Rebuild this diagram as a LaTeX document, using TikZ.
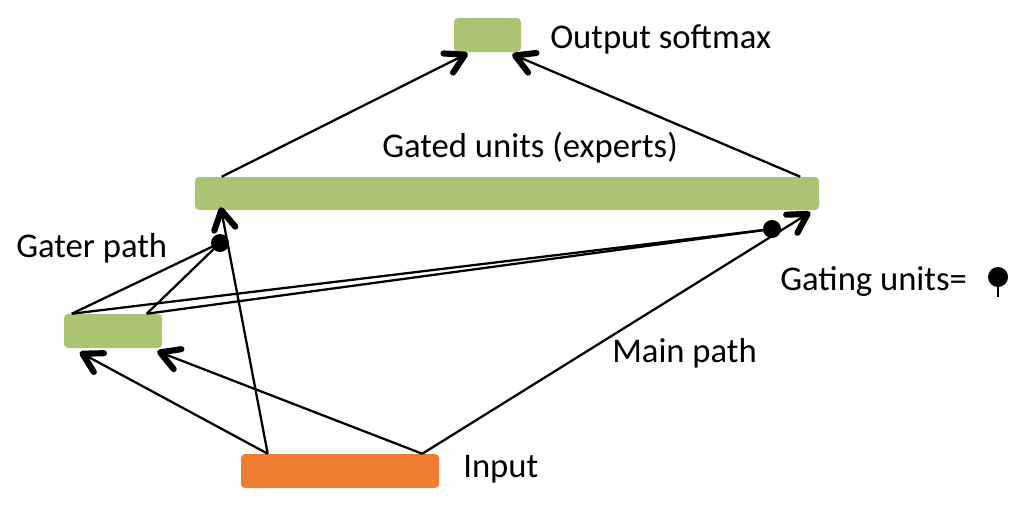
\documentclass[tikz,border=0pt]{standalone}
\usepackage{fontspec}
\setmainfont{Carlito}
\usetikzlibrary{arrows.meta,calc,fit}
\definecolor{boxgreen}{RGB}{170,196,115}
\definecolor{boxorange}{RGB}{237,125,49}
\begin{document}
\begin{tikzpicture}[x=0.75pt,y=-0.75pt,
  greenbox/.style={fill=boxgreen,draw=none,rounded corners=3pt,inner sep=0pt},
  orangebox/.style={fill=boxorange,draw=none,rounded corners=3pt,inner sep=0pt},
  conn/.style={line width=1.7pt},
  arr/.style={conn,-{Straight Barb[length=14pt,width=16pt,line width=4.6pt,round]}},
  gdot/.style={circle,fill=black,inner sep=0pt,minimum size=13.5pt},
  lbl/.style={font=\fontsize{26}{30}\selectfont,inner sep=0pt,anchor=base west}]
\useasboundingbox (0,0) rectangle (1024,507);
% boxes
\node[greenbox,fit={(454,18) (521,52)}] (out) {};
\node[greenbox,fit={(195,177) (819,210)}] (gated) {};
\node[greenbox,fit={(64,314) (162,348)}] (gater) {};
\node[orangebox,fit={(241,454) (439,488)}] (input) {};
% gating unit positions
\coordinate (g1) at (220,243);
\coordinate (g2) at (772,229);
% gated -> output
\draw[arr] ($(gated.north west)+(27,0)$) -- ($(out.south west)+(14,1)$);
\draw[arr] ($(gated.north east)+(-19,0)$) -- ($(out.south east)+(-9,2)$);
% input -> gated / gater
\draw[arr] ($(input.north west)+(27,0)$) -- ($(gated.south west)+(26,-3)$);
\draw[arr] ($(input.north west)+(27,0)$) -- ($(gater.south west)+(16,4)$);
\draw[arr] ($(input.north east)+(-17,0)$) -- ($(gater.south east)+(-5,3)$);
\draw[arr] ($(input.north east)+(-17,0)$) -- ($(gated.south east)+(-9,2)$);
% gater -> gating units
\draw[conn] ($(gater.north west)+(8,0)$) -- (g1);
\draw[conn] ($(gater.north west)+(83,0)$) -- (g1);
\draw[conn] ($(gater.north west)+(8,0)$) -- (g2);
\draw[conn] ($(gater.north west)+(83,0)$) -- (g2);
\node[gdot] (d1) at (g1) {};
\node[gdot] (d2) at (g2) {};
% labels
\node[lbl] (tout) at (550,48) {Output softmax};
\node[lbl] (tgated) at (382,157) {Gated units (experts)};
\node[lbl] (tgater) at (16,257) {Gater path};
\node[lbl] (tgating) at (780,290) {Gating units=};
\node[lbl] (tmain) at (612,362) {Main path};
\node[lbl] (tinput) at (463,477) {Input};
% legend pin
\node[gdot,minimum size=15pt] (pin) at (998,277) {};
\coordinate (pinend) at (998,297);
\draw[line width=2.2pt] (pin.center) -- (pinend);
\end{tikzpicture}
\end{document}
